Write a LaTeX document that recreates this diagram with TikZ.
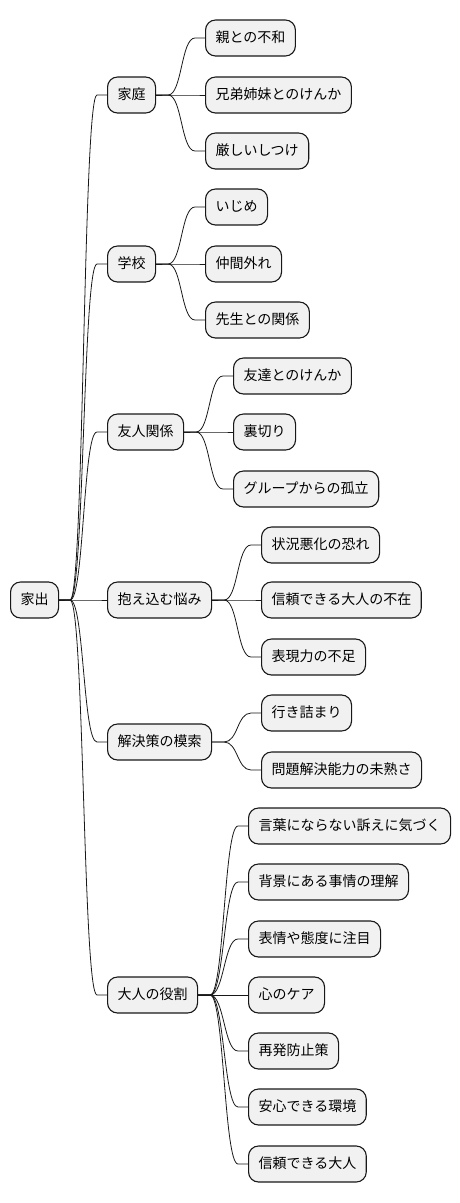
\documentclass[tikz,border=0pt]{standalone}
\usepackage{fontspec}
\setmainfont{Noto Sans CJK JP}
\usepackage{tikz}
\usetikzlibrary{positioning}
\usepackage{xcolor}
\definecolor{boxfill}{HTML}{F1F1F1}
\definecolor{boxline}{HTML}{181818}
\tikzstyle{topic} = [draw=boxline, fill=boxfill, line width=1.1pt, rounded corners=10pt, minimum height=36pt, inner xsep=10pt, text height=11pt, text depth=2pt, anchor=west, font=\fontsize{14pt}{16pt}\selectfont]
\tikzstyle{link} = [draw=boxline, line width=0.8pt]

\begin{document}
\begin{tikzpicture}[x=1pt, y=-1pt]
	\useasboundingbox (0,0) rectangle (460,1203);
	%root
	\node[topic] (iede) at (10,600) {家出};
	%first level
	\node[topic] (katei) at (107,95) {家庭};
	\node[topic] (gakko) at (107,264) {学校};
	\node[topic] (yujin) at (107,432) {友人関係};
	\node[topic] (nayami) at (107,600) {抱え込む悩み};
	\node[topic] (kaiketsu) at (107,742) {解決策の模索};
	\node[topic] (otona) at (107,995) {大人の役割};
	%katei
	\node[topic] (oya) at (205,38) {親との不和};
	\node[topic] (kyodai) at (205,95) {兄弟姉妹とのけんか};
	\node[topic] (shitsuke) at (205,151) {厳しいしつけ};
	%gakko
	\node[topic] (ijime) at (205,207) {いじめ};
	\node[topic] (nakama) at (205,264) {仲間外れ};
	\node[topic] (sensei) at (205,320) {先生との関係};
	%yujin
	\node[topic] (kenka) at (233,376) {友達とのけんか};
	\node[topic] (uragiri) at (233,432) {裏切り};
	\node[topic] (koritsu) at (233,489) {グループからの孤立};
	%nayami
	\node[topic] (akka) at (261,545) {状況悪化の恐れ};
	\node[topic] (fuzai) at (261,600) {信頼できる大人の不在};
	\node[topic] (hyogen) at (261,657) {表現力の不足};
	%kaiketsu
	\node[topic] (ikizumari) at (261,713) {行き詰まり};
	\node[topic] (mijuku) at (261,770) {問題解決能力の未熟さ};
	%otona
	\node[topic] (uttae) at (248,826) {言葉にならない訴えに気づく};
	\node[topic] (haikei) at (248,882) {背景にある事情の理解};
	\node[topic] (hyojo) at (248,939) {表情や態度に注目};
	\node[topic] (kokoro) at (248,995) {心のケア};
	\node[topic] (boshi) at (248,1051) {再発防止策};
	\node[topic] (anshin) at (248,1107) {安心できる環境};
	\node[topic] (shinrai) at (248,1164) {信頼できる大人};

	%links
	\foreach \c in {katei,gakko,yujin,nayami,kaiketsu,otona}
		\draw[link] (iede.east) -- ++(11pt,0) to[out=0,in=180,distance=14pt] ([xshift=-10pt]\c.west) -- (\c.west);
	\foreach \c in {oya,kyodai,shitsuke}
		\draw[link] (katei.east) -- ++(12pt,0) to[out=0,in=180,distance=14pt] ([xshift=-10pt]\c.west) -- (\c.west);
	\foreach \c in {ijime,nakama,sensei}
		\draw[link] (gakko.east) -- ++(12pt,0) to[out=0,in=180,distance=14pt] ([xshift=-10pt]\c.west) -- (\c.west);
	\foreach \c in {kenka,uragiri,koritsu}
		\draw[link] (yujin.east) -- ++(12pt,0) to[out=0,in=180,distance=14pt] ([xshift=-10pt]\c.west) -- (\c.west);
	\foreach \c in {akka,fuzai,hyogen}
		\draw[link] (nayami.east) -- ++(12pt,0) to[out=0,in=180,distance=14pt] ([xshift=-10pt]\c.west) -- (\c.west);
	\foreach \c in {ikizumari,mijuku}
		\draw[link] (kaiketsu.east) -- ++(12pt,0) to[out=0,in=180,distance=14pt] ([xshift=-10pt]\c.west) -- (\c.west);
	\foreach \c in {uttae,haikei,hyojo,kokoro,boshi,anshin,shinrai}
		\draw[link] (otona.east) -- ++(12pt,0) to[out=0,in=180,distance=14pt] ([xshift=-10pt]\c.west) -- (\c.west);
\end{tikzpicture}
\end{document}
